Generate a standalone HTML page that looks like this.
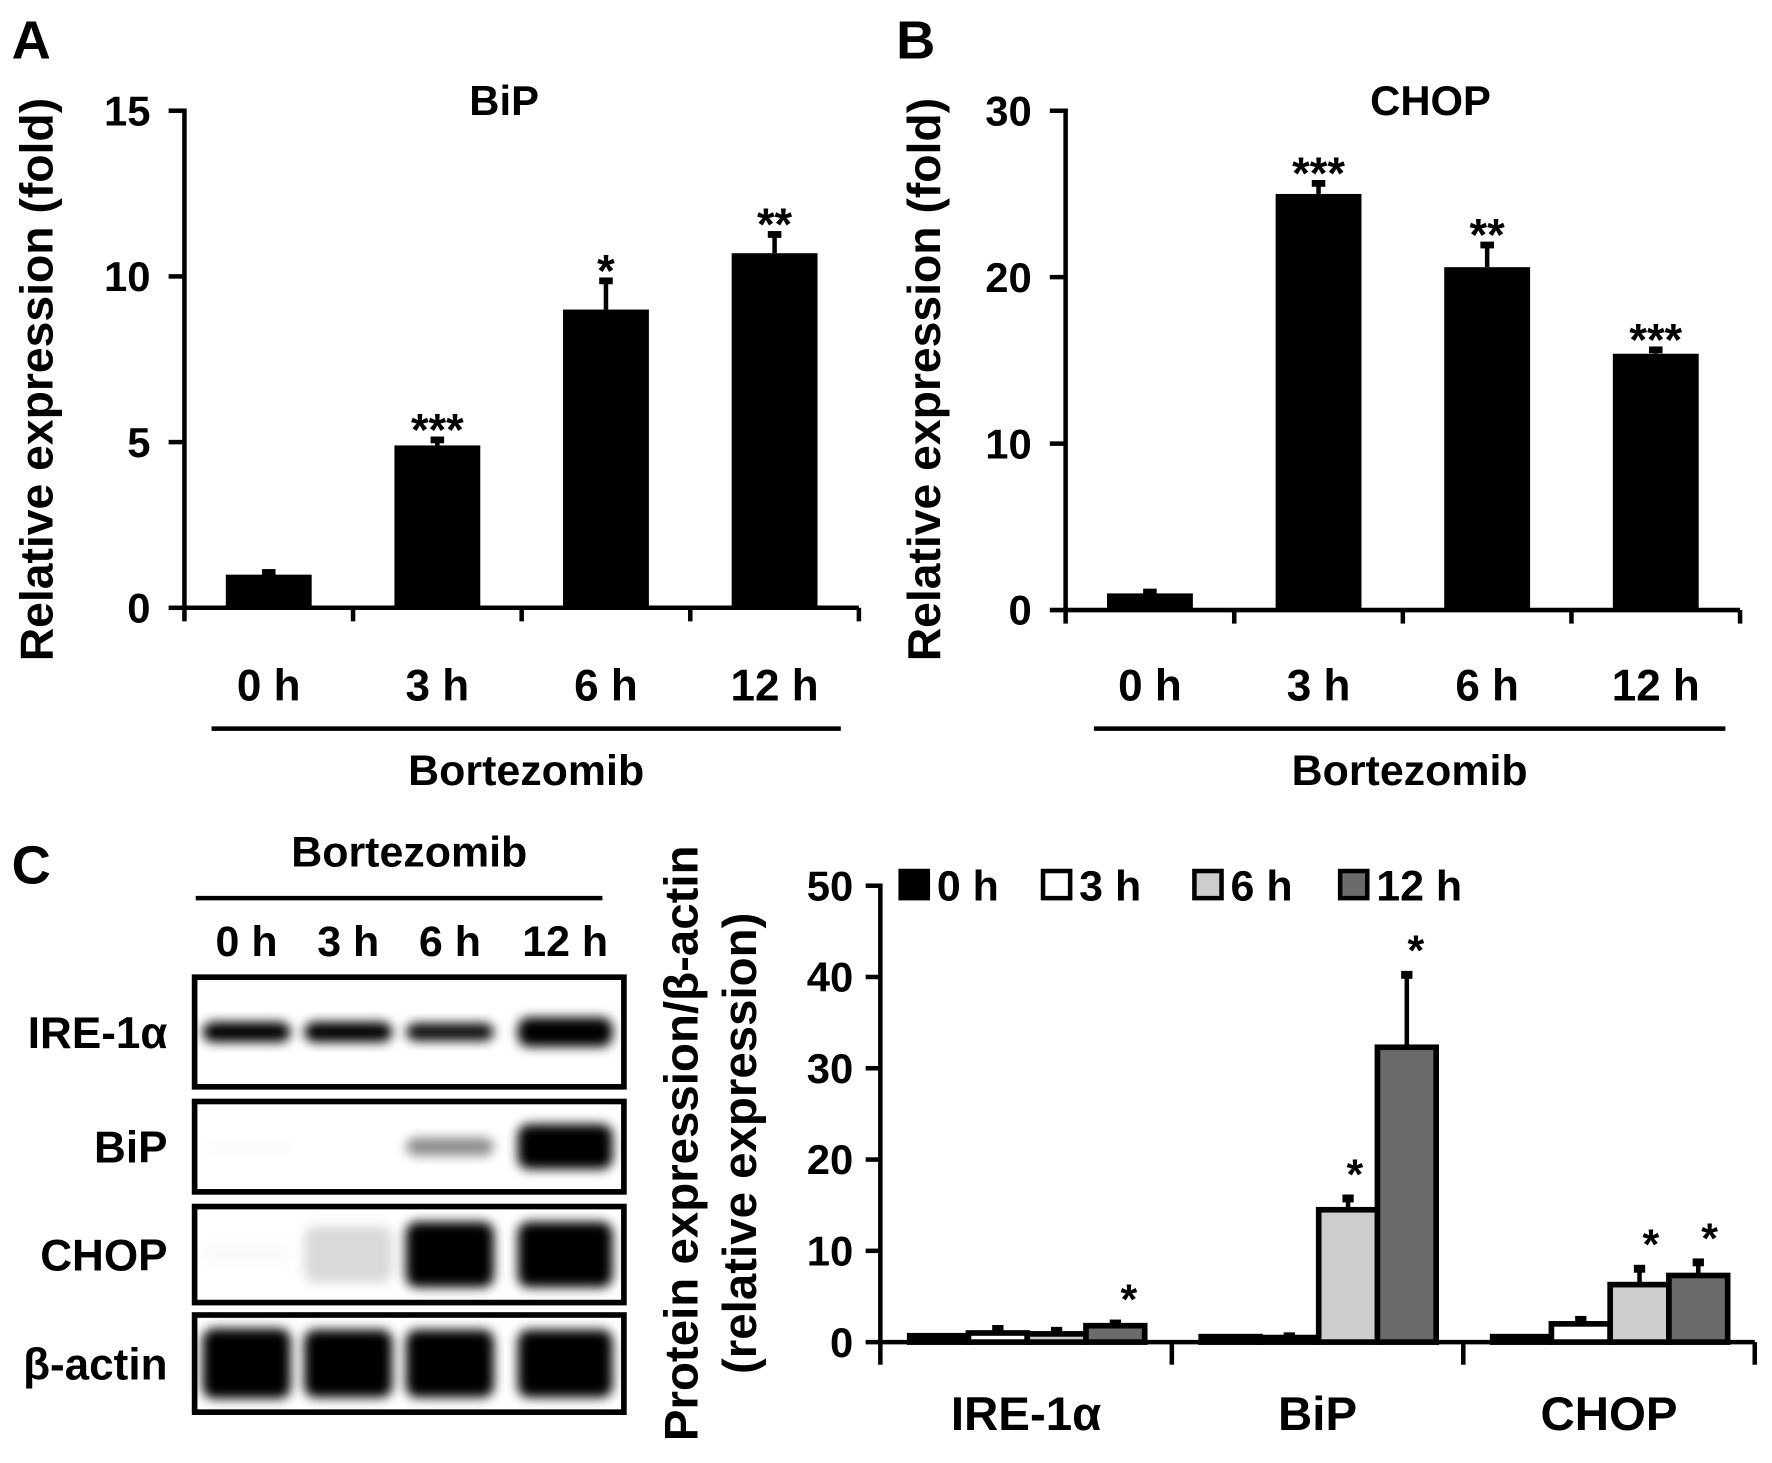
<!DOCTYPE html>
<html><head><meta charset="utf-8"><style>
html,body{margin:0;padding:0;background:#fff}
svg{display:block}
text{font-family:"Liberation Sans",sans-serif;font-weight:bold;fill:#000}
</style></head><body>
<svg id="fig" width="1772" height="1463" viewBox="0 0 1568 1295" xmlns="http://www.w3.org/2000/svg">
<defs>
<filter id="blur" x="-50%" y="-50%" width="200%" height="200%"><feGaussianBlur stdDeviation="5"/></filter>
</defs>
<g id="root"></g>
</svg>
<script>
// Panel A data
const catsAB = ["0 h","3 h","6 h","12 h"];
const bipVals = [1.0, 4.9, 9.0, 10.7];
const bipErr = [0.1, 0.2, 0.9, 0.6];
const bipStars = ["", "***", "*", "**"];
const bipTicks = [0,5,10,15];
// Panel B data
const chopVals = [1.0, 25.0, 20.6, 15.4];
const chopErr = [0.15, 0.7, 1.4, 0.3];
const chopStars = ["", "***", "**", "***"];
const chopTicks = [0,10,20,30];
// Panel C data
const protCats = ["IRE-1α","BiP","CHOP"];
const seriesNames = ["0 h","3 h","6 h","12 h"];
const prot0 = [0.7, 0.6, 0.6];
const prot3 = [1.0, 0.5, 2.0];
const prot6 = [0.9, 14.5, 6.3];
const prot12 = [1.8, 32.3, 7.3];
const err0 = [0, 0, 0];
const err3 = [0.5, 0.2, 0.5];
const err6 = [0.4, 1.3, 1.8];
const err12 = [0.3, 8.0, 1.5];
const stars0 = ["","",""];
const stars3 = ["","",""];
const stars6 = ["","*","*"];
const stars12 = ["*","*","*"];
const protTicks = [0,10,20,30,40,50];

const NS="http://www.w3.org/2000/svg";
const root=document.getElementById('root');
function el(tag,attrs,parent,txt){const e=document.createElementNS(NS,tag);for(const k in attrs)e.setAttribute(k,attrs[k]);if(txt!==undefined)e.textContent=txt;(parent||root).appendChild(e);return e;}

function barPanel(o){
  const g=el('g',{});
  
  
  const y=v=>o.y0-(v/o.max)*(o.y0-o.yTop);
  const catW=(o.x1-o.x0)/o.cats.length;
  const ya=el('line',{x1:o.x0,y1:o.yTop-2,x2:o.x0,y2:o.y0,stroke:'#000','stroke-width':4},g);
  
  
  const xa=el('line',{x1:o.x0-2,y1:o.y0,x2:o.x1,y2:o.y0,stroke:'#000','stroke-width':4},g);
  
  
  o.ticks.forEach(t=>{
    el('line',{x1:o.x0-14,y1:y(t),x2:o.x0,y2:y(t),stroke:'#000','stroke-width':4},g);
    const tl=el('text',{x:o.x0-30,y:y(t)+13,'text-anchor':'end','font-size':37},g,String(t));
    
    
  });
  for(let i=0;i<=o.cats.length;i++){
    el('line',{x1:o.x0+i*catW,y1:o.y0,x2:o.x0+i*catW,y2:o.y0+12,stroke:'#000','stroke-width':4},g);
  }
  o.cats.forEach((c,i)=>{
    const cx=o.x0+(i+0.5)*catW;
    const top=y(o.vals[i]);
    const bw=76;
    const b=el('rect',{x:cx-bw/2,y:top,width:bw,height:o.y0-top,fill:'#000'},g);
    
    
    const et=y(o.vals[i]+o.err[i]);
    el('line',{x1:cx,y1:top,x2:cx,y2:et,stroke:'#000','stroke-width':4},g);
    el('rect',{x:cx-6,y:et-2,width:12,height:6,fill:'#000'},g);
    if(o.stars[i]){
      const s=el('text',{x:cx,y:et+6,'text-anchor':'middle','font-size':40,'font-weight':'normal'},g,o.stars[i]);
      
      
    }
    const xl=el('text',{x:cx,y:620,'text-anchor':'middle','font-size':39},g,c);
    
    
  });
  const br=el('line',{x1:o.brX0,y1:645,x2:o.brX1,y2:645,stroke:'#000','stroke-width':4},g);
  
  
  const bt=el('text',{x:(o.brX0+o.brX1)/2,y:695,'text-anchor':'middle','font-size':38},g,'Bortezomib');
  
  
  const ti=el('text',{x:o.titleX,y:102,'text-anchor':'middle','font-size':37},g,o.title);
  
  
  const yl=el('text',{x:0,y:0,'text-anchor':'middle','font-size':41,transform:`translate(${o.ylX},336) rotate(-90)`},g,'Relative expression (fold)');
  
  
  const pl=el('text',{x:o.letterX,y:52,'font-size':48},g,o.letter);
  
  
}
barPanel({name:'bip-mrna-chart',x0:163,x1:760,y0:538,yTop:98,max:15,ticks:bipTicks,cats:catsAB,vals:bipVals,err:bipErr,stars:bipStars,brX0:187,brX1:744,title:'BiP',titleX:446,ylX:46,letter:'A',letterX:10});
barPanel({name:'chop-mrna-chart',x0:943,x1:1540,y0:540,yTop:98,max:30,ticks:chopTicks,cats:catsAB,vals:chopVals,err:chopErr,stars:chopStars,brX0:968,brX1:1527,title:'CHOP',titleX:1266,ylX:832,letter:'B',letterX:793});

(function(){
  const t=el('text',{x:10,y:782,'font-size':48},root,'C');
  
  
})();

// Western blot
(function(){
  const g=el('g',{});
  
  
  const h=el('text',{x:362,y:767,'text-anchor':'middle','font-size':38},g,'Bortezomib');
  
  
  el('line',{x1:173,y1:795,x2:533,y2:795,stroke:'#000','stroke-width':4},g);
  const lanes=[218,308,398,500];
  const laneL=["0 h","3 h","6 h","12 h"];
  lanes.forEach((x,i)=>{
    const t=el('text',{x:x,y:846,'text-anchor':'middle','font-size':38},g,laneL[i]);
    
    
  });
  const rows=[
    {n:'IRE-1α',y0:865,y1:962,bands:[[1,18],[1,18],[0.95,16],[1,26]]},
    {n:'BiP',y0:975,y1:1055,bands:[[0.02,10],[0,10],[0.45,16],[1,40]]},
    {n:'CHOP',y0:1068,y1:1153,bands:[[0.02,20],[0.15,50],[1,58],[1,58]]},
    {n:'β-actin',y0:1164,y1:1250,bands:[[1,62],[1,60],[1,60],[1,60]]}
  ];
  rows.forEach(r=>{
    const box=el('rect',{x:172,y:r.y0,width:380,height:r.y1-r.y0,fill:'#fff',stroke:'#000','stroke-width':5},g);
    
    
    const cy=(r.y0+r.y1)/2;
    r.bands.forEach((b,i)=>{
      if(b[0]<=0)return;
      const w=lanes[i]===500?84:78;
      el('rect',{x:lanes[i]-w/2,y:cy-b[1]/2,width:w,height:b[1],rx:10,fill:'#000','fill-opacity':b[0],filter:'url(#blur)'},g);
    });
    const l=el('text',{x:148,y:cy+14,'text-anchor':'end','font-size':39},g,r.n);
    
    
  });
})();

// Panel C grouped chart
(function(){
  const g=el('g',{});
  
  
  const x0=779,x1=1553,y0=1188,yTop=784,max=50;
  const y=v=>y0-(v/max)*(y0-yTop);
  const catW=(x1-x0)/protCats.length;
  const series=[prot0,prot3,prot6,prot12];
  const errs=[err0,err3,err6,err12];
  const stars=[stars0,stars3,stars6,stars12];
  const fills=['#000','#fff','#cdcdcd','#6b6b6b'];
  const bw=52;
  protCats.forEach((c,ci)=>{
    const gx=x0+ci*catW+26;
    series.forEach((s,si)=>{
      const bx=gx+si*bw;
      const top=y(s[ci]);
      const et=y(s[ci]+errs[si][ci]);
      if(errs[si][ci]>0){
        el('line',{x1:bx+bw/2,y1:top,x2:bx+bw/2,y2:et,stroke:'#000','stroke-width':4},g);
        el('rect',{x:bx+bw/2-5,y:et-3,width:10,height:7,fill:'#000'},g);
      }
      const b=el('rect',{x:bx,y:top,width:bw,height:y0-top,fill:fills[si],stroke:'#000','stroke-width':5},g);
      
      
      if(stars[si][ci]){
        const st=el('text',{x:bx+bw/2+(si===2&&ci===1?6:(ci===2?10:(si===3&&ci===0?12:8))),y:et-8,'text-anchor':'middle','font-size':38,'font-weight':'normal'},g,stars[si][ci]);
        
        
      }
    });
    const cl=el('text',{x:x0+(ci+0.5)*catW,y:1266,'text-anchor':'middle','font-size':42},g,c);
    
    
  });
  const ya=el('line',{x1:x0,y1:yTop-2,x2:x0,y2:y0,stroke:'#000','stroke-width':4},g);
  
  
  const xa=el('line',{x1:x0-2,y1:y0,x2:x1,y2:y0,stroke:'#000','stroke-width':4},g);
  
  
  protTicks.forEach(t=>{
    el('line',{x1:x0-13,y1:y(t),x2:x0,y2:y(t),stroke:'#000','stroke-width':4},g);
    const tl=el('text',{x:x0-24,y:y(t)+13,'text-anchor':'end','font-size':37},g,String(t));
    
    
  });
  for(let i=0;i<=protCats.length;i++){
    el('line',{x1:x0+i*catW,y1:y0,x2:x0+i*catW,y2:y0+20,stroke:'#000','stroke-width':4},g);
  }
  const yl1=el('text',{x:0,y:0,'text-anchor':'middle','font-size':42,transform:'translate(617,1012) rotate(-90)'},g,'Protein expression/β-actin');
  
  
  const yl2=el('text',{x:0,y:0,'text-anchor':'middle','font-size':42,transform:'translate(669,1012) rotate(-90)'},g,'(relative expression)');
  
  
  const lx=[797,923,1057,1186];
  seriesNames.forEach((n,i)=>{
    const lg=el('g',{},g);
    
    
    el('rect',{x:lx[i],y:771,width:24,height:24,fill:fills[i],stroke:'#000','stroke-width':4},lg);
    el('text',{x:lx[i]+32,y:797,'font-size':38},lg,n);
  });
})();
</script>
</body></html>
